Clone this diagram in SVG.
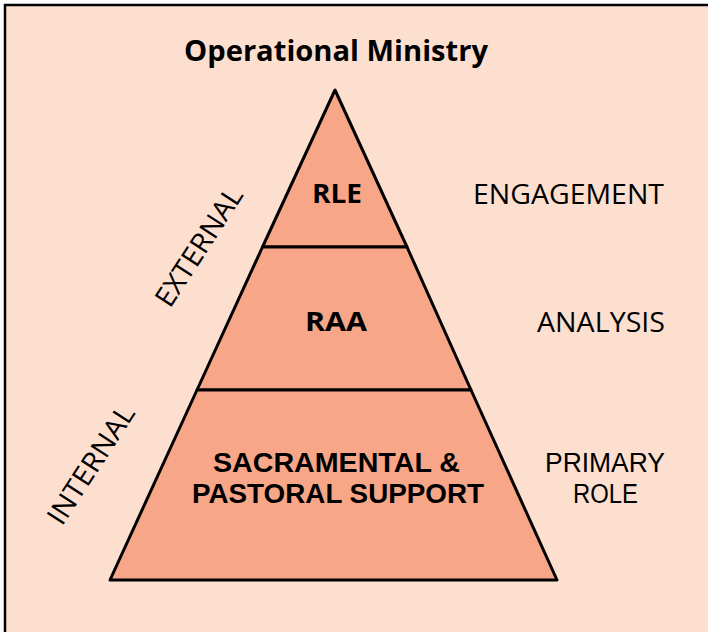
<svg xmlns="http://www.w3.org/2000/svg" width="708" height="632" viewBox="0 0 708 632">
<style>
.t{font-family:"Open Sans","Noto Sans","Liberation Sans",sans-serif;fill:#000;}
.l{font-family:"Liberation Sans","Arial",sans-serif;fill:#000;}
.b{font-weight:bold;}
.tier{fill:#F8A688;stroke:#000;stroke-width:3;stroke-linejoin:round;}
</style>
<rect x="0" y="0" width="708" height="632" fill="#fff"/>
<rect x="5" y="5" width="720" height="650" fill="#FDDFD0" stroke="#000" stroke-width="2.5"/>
<text class="t b" x="336" y="61" font-size="28" text-anchor="middle" textLength="304" lengthAdjust="spacingAndGlyphs">Operational Ministry</text>
<g id="tier-rle">
<polygon class="tier" points="335,90 262.5,247 407,247"/>
<text class="t b" x="337" y="203" font-size="26" text-anchor="middle" textLength="50" lengthAdjust="spacingAndGlyphs">RLE</text>
</g>
<g id="tier-raa">
<polygon class="tier" points="262.5,247 407,247 471,390 197,390"/>
<text class="t b" x="336" y="331" font-size="26" text-anchor="middle" textLength="62" lengthAdjust="spacingAndGlyphs">RAA</text>
</g>
<g id="tier-support">
<polygon class="tier" points="197,390 471,390 557,580 110,580"/>
<text class="l b" x="336.5" y="472" font-size="27" text-anchor="middle" textLength="247" lengthAdjust="spacingAndGlyphs">SACRAMENTAL &amp;</text>
<text class="l b" x="338" y="503" font-size="27" text-anchor="middle" textLength="292" lengthAdjust="spacingAndGlyphs">PASTORAL SUPPORT</text>
</g>
<g id="label-engagement">
<text class="t" x="568.5" y="204" font-size="28" text-anchor="middle" textLength="191" lengthAdjust="spacingAndGlyphs">ENGAGEMENT</text>
</g>
<g id="label-analysis">
<text class="t" x="601" y="332" font-size="28" text-anchor="middle" textLength="128" lengthAdjust="spacingAndGlyphs">ANALYSIS</text>
</g>
<g id="label-primary">
<text class="l" x="605" y="472" font-size="27" text-anchor="middle" textLength="120" lengthAdjust="spacingAndGlyphs">PRIMARY</text>
<text class="l" x="605.5" y="503" font-size="27" text-anchor="middle" textLength="65" lengthAdjust="spacingAndGlyphs">ROLE</text>
</g>
<g id="label-external">
<text class="t" transform="translate(207,252) rotate(-57)" font-size="28" text-anchor="middle" textLength="136" lengthAdjust="spacingAndGlyphs">EXTERNAL</text>
</g>
<g id="label-internal">
<text class="t" transform="translate(99,470) rotate(-57)" font-size="28" text-anchor="middle" textLength="136" lengthAdjust="spacingAndGlyphs">INTERNAL</text>
</g>
</svg>
